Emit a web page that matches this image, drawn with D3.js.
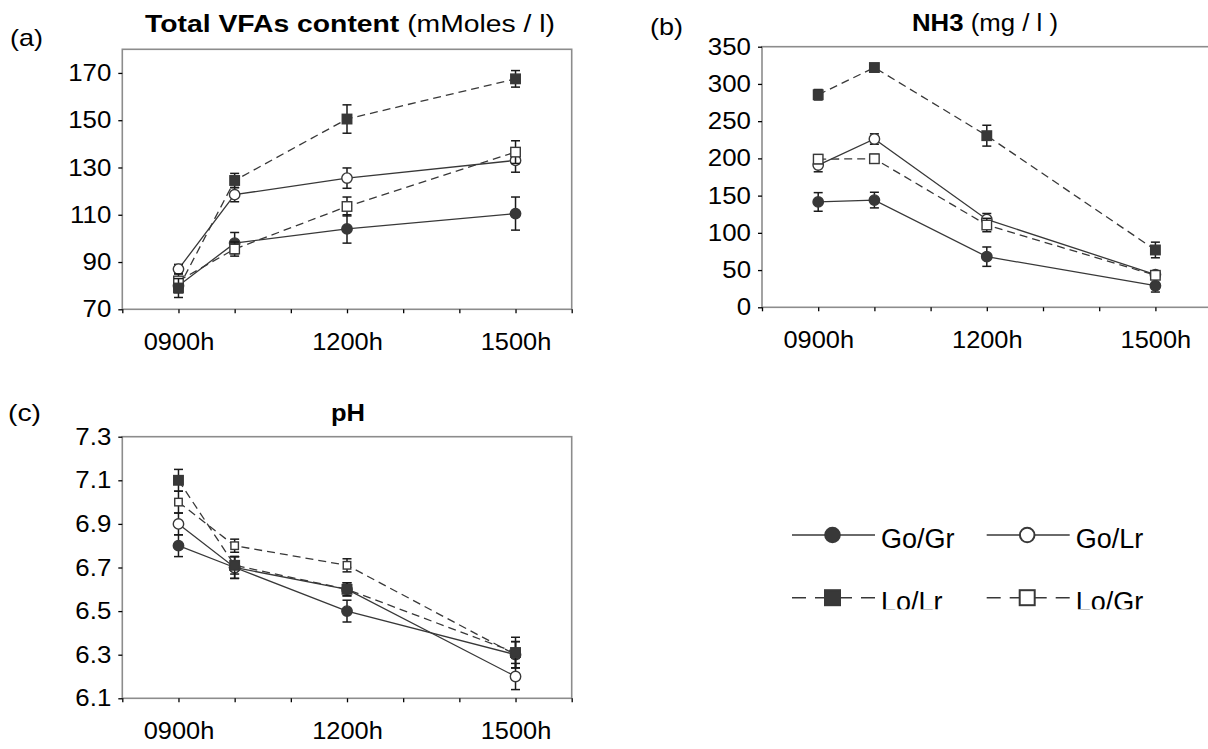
<!DOCTYPE html>
<html>
<head>
<meta charset="utf-8">
<script src="https://cdn.jsdelivr.net/npm/d3@7"></script>
<style>
  html, body { margin: 0; padding: 0; background: #fff; }
  svg { display: block; font-family: "Liberation Sans", Arial, sans-serif; }
</style>
</head>
<body>
<svg id="chart" width="1208" height="749"></svg>
<script>
// ---------------- DATA ----------------
const hours = [9, 10, 12, 15];
const xLabelHours = [9, 12, 15];
const xLabels = ["0900h", "1200h", "1500h"];
const seriesNames = ["Go/Gr", "Go/Lr", "Lo/Lr", "Lo/Gr"];
const drawOrder = ["Go/Gr", "Go/Lr", "Lo/Gr", "Lo/Lr"];

// Total VFAs content (mMoles / l)
const vfaGoGr = [80, 98, 104, 110.5];
const vfaGoLr = [87, 118.5, 125.5, 133];
const vfaLoLr = [79, 124.5, 150.5, 167.5];
const vfaLoGr = [82, 95.5, 113.5, 136.5];
const vfaErrGoGr = [3, 4.5, 6, 7];
const vfaErrGoLr = [2, 3, 4.3, 5];
const vfaErrLoLr = [4, 3, 6, 3.5];
const vfaErrLoGr = [3, 3, 4, 4.8];
const vfaTicks = [70, 90, 110, 130, 150, 170];

// NH3 (mg / l)
const nh3GoGr = [141.5, 144, 68, 29];
const nh3GoLr = [191, 226, 118, 44];
const nh3LoLr = [285.5, 322, 230.5, 77];
const nh3LoGr = [199, 199.5, 110.5, 43];
const nh3ErrGoGr = [12.5, 10.5, 13, 8.5];
const nh3ErrGoLr = [9, 7, 8, 5];
const nh3ErrLoLr = [7, 5, 14, 10.5];
const nh3ErrLoGr = [6, 6, 9, 5];
const nh3Ticks = [0, 50, 100, 150, 200, 250, 300, 350];

// pH
const phGoGr = [6.80, 6.70, 6.50, 6.30];
const phGoLr = [6.90, 6.70, 6.60, 6.20];
const phLoLr = [7.10, 6.71, 6.60, 6.31];
const phLoGr = [7.00, 6.80, 6.71, 6.30];
const phErrGoGr = [0.05, 0.05, 0.05, 0.06];
const phErrGoLr = [0.05, 0.05, 0.03, 0.06];
const phErrLoLr = [0.05, 0.04, 0.03, 0.07];
const phErrLoGr = [0.05, 0.03, 0.03, 0.06];
const phTicks = [6.1, 6.3, 6.5, 6.7, 6.9, 7.1, 7.3];

// ---------------- STYLE ----------------
const INK = "#383838";
const FRAME = "#8c8c8c";
const styles = {
  "Go/Gr": { dash: null, shape: "circle", fill: INK },
  "Go/Lr": { dash: null, shape: "circle", fill: "#fff" },
  "Lo/Lr": { dash: "8,5", shape: "square", fill: INK },
  "Lo/Gr": { dash: "8,5", shape: "square", fill: "#fff" }
};

const svg = d3.select("#chart");

function stretch(sel, k) {
  sel.each(function () {
    const L = this.getComputedTextLength();
    if (L > 0) d3.select(this).attr("textLength", L * k).attr("lengthAdjust", "spacingAndGlyphs");
  });
}

function panel(cfg) {
  const g = svg.append("g");
  const x = d3.scaleLinear().domain([8, 16]).range([cfg.left, cfg.right]);
  const y = d3.scaleLinear().domain(cfg.yDomain).range([cfg.bottom, cfg.top]);

  // frame
  g.append("rect")
    .attr("x", cfg.left).attr("y", cfg.top)
    .attr("width", cfg.right - cfg.left).attr("height", cfg.bottom - cfg.top)
    .attr("fill", "none").attr("stroke", FRAME).attr("stroke-width", 1.6);

  // y axis
  const ya = g.append("g").attr("transform", `translate(${cfg.left},0)`)
    .call(d3.axisLeft(y).tickValues(cfg.yTicks).tickSize(4).tickPadding(7).tickFormat(cfg.yFormat));
  ya.select(".domain").remove();
  ya.selectAll(".tick line").attr("stroke", "#000").attr("stroke-width", 1.3);
  ya.selectAll(".tick text").attr("font-size", 23.5).attr("fill", "#000")
    .attr("font-family", '"Liberation Sans", Arial, sans-serif');
  stretch(ya.selectAll(".tick text"), 1.1);

  // x axis
  const xa = g.append("g").attr("transform", `translate(0,${cfg.bottom})`)
    .call(d3.axisBottom(x).tickValues(d3.range(8, 17)).tickSize(4).tickPadding(20)
      .tickFormat(h => { const i = xLabelHours.indexOf(h); return i >= 0 ? xLabels[i] : ""; }));
  xa.select(".domain").remove();
  xa.selectAll(".tick line").attr("stroke", "#000").attr("stroke-width", 1.3);
  xa.selectAll(".tick text").attr("font-size", 23.5).attr("fill", "#000")
    .attr("font-family", '"Liberation Sans", Arial, sans-serif');
  stretch(xa.selectAll(".tick text"), 1.08);

  // title
  const t = g.append("text").attr("x", cfg.titleX).attr("y", cfg.titleY)
    .attr("text-anchor", "middle").attr("font-size", 23).attr("fill", "#000");
  t.append("tspan").attr("font-weight", "bold").text(cfg.titleBold);
  if (cfg.titleRest) t.append("tspan").text(cfg.titleRest);
  t.attr("textLength", cfg.titleW).attr("lengthAdjust", "spacingAndGlyphs");

  // panel letter
  g.append("text").attr("x", cfg.letterX).attr("y", cfg.letterY)
    .attr("font-size", 24).attr("fill", "#000").text(cfg.letter)
    .attr("textLength", 33).attr("lengthAdjust", "spacingAndGlyphs");

  const line = d3.line().x((d, i) => x(hours[i])).y(d => y(d));

  // lines
  drawOrder.forEach(name => {
    const si = seriesNames.indexOf(name);
    const st = styles[name];
    g.append("path").datum(cfg.values[si])
      .attr("d", line).attr("fill", "none").attr("stroke", INK)
      .attr("stroke-width", 1.3)
      .attr("stroke-dasharray", st.dash);
  });

  // error bars + markers
  drawOrder.forEach(name => {
    const si = seriesNames.indexOf(name);
    const st = styles[name];
    const vals = cfg.values[si], errs = cfg.errors[si];
    const eg = g.append("g").attr("stroke", "#1a1a1a").attr("stroke-width", 1.5);
    vals.forEach((v, i) => {
      const cx = x(hours[i]);
      const y1 = y(v + errs[i]), y2 = y(v - errs[i]);
      eg.append("line").attr("x1", cx).attr("x2", cx).attr("y1", y1).attr("y2", y2);
      eg.append("line").attr("x1", cx - 4.5).attr("x2", cx + 4.5).attr("y1", y1).attr("y2", y1);
      eg.append("line").attr("x1", cx - 4.5).attr("x2", cx + 4.5).attr("y1", y2).attr("y2", y2);
    });
    const mg = g.append("g");
    vals.forEach((v, i) => {
      const cx = x(hours[i]), cy = y(v);
      if (st.shape === "circle") {
        mg.append("circle").attr("cx", cx).attr("cy", cy).attr("r", 5.2)
          .attr("fill", st.fill).attr("stroke", INK).attr("stroke-width", 1.4);
      } else {
        const s = (st.fill === "#fff" && cfg.smallOpenSq) ? 7.5 : 9.5;
        mg.append("rect").attr("x", cx - s / 2).attr("y", cy - s / 2)
          .attr("width", s).attr("height", s)
          .attr("fill", st.fill).attr("stroke", INK).attr("stroke-width", 1.4);
      }
    });
  });
}

panel({
  left: 122.3, right: 571.7, top: 49.3, bottom: 309.3,
  yDomain: [70, 180], yTicks: vfaTicks, yFormat: d3.format("d"),
  values: [vfaGoGr, vfaGoLr, vfaLoLr, vfaLoGr],
  errors: [vfaErrGoGr, vfaErrGoLr, vfaErrLoLr, vfaErrLoGr],
  titleBold: "Total VFAs content", titleRest: " (mMoles / l)",
  titleX: 350, titleY: 31.7, titleW: 410,
  letter: "(a)", letterX: 10, letterY: 46
});

panel({
  left: 762, right: 1211.6, top: 46.7, bottom: 307.3,
  yDomain: [0, 350], yTicks: nh3Ticks, yFormat: d3.format("d"),
  values: [nh3GoGr, nh3GoLr, nh3LoLr, nh3LoGr],
  errors: [nh3ErrGoGr, nh3ErrGoLr, nh3ErrLoLr, nh3ErrLoGr],
  titleBold: "NH3", titleRest: " (mg / l )",
  titleX: 985, titleY: 30.7, titleW: 146,
  letter: "(b)", letterX: 650, letterY: 34.5
});

panel({
  left: 122.3, right: 571.7, top: 436.7, bottom: 698.3,
  yDomain: [6.1, 7.3], yTicks: phTicks, yFormat: d3.format(".1f"),
  values: [phGoGr, phGoLr, phLoLr, phLoGr],
  errors: [phErrGoGr, phErrGoLr, phErrLoLr, phErrLoGr],
  titleBold: "pH", titleRest: null,
  titleX: 348, titleY: 421, titleW: 34,
  letter: "(c)", letterX: 8, letterY: 421, smallOpenSq: true
});

// ---------------- LEGEND ----------------
const legendCols = [792, 986.7];
const legendRows = [535, 597.7];
const legendLineW = 83;
const defs = svg.append("defs");
defs.append("clipPath").attr("id", "legclip")
  .append("rect").attr("x", 860).attr("y", 560).attr("width", 348).attr("height", 49.3);

seriesNames.forEach((name, si) => {
  const st = styles[name];
  const col = si % 2, row = Math.floor(si / 2);
  const x0 = legendCols[col], yy = legendRows[row];
  const cx = x0 + 40.5;
  const lg = svg.append("g");
  lg.append("line").attr("x1", x0).attr("x2", x0 + legendLineW).attr("y1", yy).attr("y2", yy)
    .attr("stroke", INK).attr("stroke-width", 1.6)
    .attr("stroke-dasharray", st.dash ? "14,9" : null);
  if (st.shape === "circle") {
    lg.append("circle").attr("cx", cx).attr("cy", yy).attr("r", 7.3)
      .attr("fill", st.fill).attr("stroke", INK).attr("stroke-width", 2);
  } else {
    lg.append("rect").attr("x", cx - 7.5).attr("y", yy - 7.5).attr("width", 15).attr("height", 15)
      .attr("fill", st.fill).attr("stroke", INK).attr("stroke-width", 2);
  }
  const tx = lg.append("text").attr("x", x0 + legendLineW + 6).attr("y", yy + 13)
    .attr("font-size", 27).attr("fill", "#000").text(name);
  if (row === 1) tx.attr("clip-path", "url(#legclip)");
});
</script>
</body>
</html>
